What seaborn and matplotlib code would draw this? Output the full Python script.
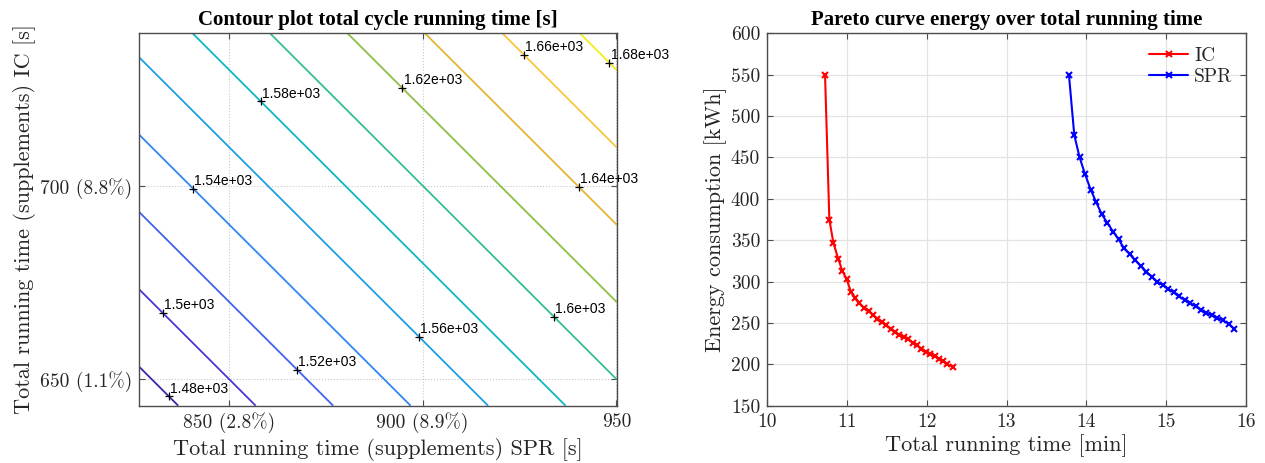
import numpy as np
import pandas as pd
import matplotlib
matplotlib.use("Agg")
import matplotlib.pyplot as plt
import seaborn as sns

# ---------------- data ----------------
# contour grid (corners of the evaluated region)
spr_grid = [826.85, 950.1]          # SPR supplement running time [s]
ic_grid = [643.1, 739.4]            # IC supplement running time [s]
total_time = [[1469.95, 1593.20],   # total cycle running time [s] (rows: IC, cols: SPR)
              [1566.25, 1689.50]]
levels = [1480, 1500, 1520, 1540, 1560, 1580, 1600, 1620, 1640, 1660, 1680]
label_spr = [834.5, 832.9, 867.6, 840.8, 899.1, 858.2, 934.0, 894.8, 940.4, 926.2, 948.2]

spr_ticks = [850, 900, 950]
spr_ticklabels = ["850 (2.8%)", "900 (8.9%)", "950"]
ic_ticks = [650, 700]
ic_ticklabels = ["650 (1.1%)", "700 (8.8%)"]

# pareto curves
ic_time = [10.727, 10.781, 10.831, 10.894, 10.944, 10.998, 11.053, 11.107, 11.157, 11.216,
           11.274, 11.328, 11.383, 11.437, 11.491, 11.550, 11.604, 11.658, 11.713, 11.771,
           11.826, 11.880, 11.935, 11.990, 12.044, 12.100, 12.150, 12.210, 12.260, 12.330]
ic_energy = [550, 375, 347, 327, 313, 303, 287, 280, 274, 268,
             264, 260, 255, 251, 247, 243, 239, 236, 233, 230,
             226, 223, 219, 215, 212, 210, 207, 204, 200, 197]
spr_time = [13.782, 13.849, 13.916, 13.983, 14.055, 14.123, 14.190, 14.262, 14.338, 14.405,
            14.473, 14.544, 14.612, 14.679, 14.751, 14.818, 14.885, 14.957, 15.024, 15.092,
            15.159, 15.230, 15.298, 15.370, 15.437, 15.504, 15.576, 15.643, 15.711, 15.782, 15.850]
spr_energy = [550, 477, 450, 430, 411, 396, 382, 371, 360, 351,
              340, 333, 326, 319, 312, 306, 300, 296, 291, 287,
              282, 278, 274, 270, 266, 262.5, 259, 256, 253, 249, 243]

level_colors = ["#3e26a8", "#4637d6", "#4063f2", "#2f86f4", "#1ba0e4", "#0fb6c4",
                "#36bd95", "#8ebf45", "#e8b331", "#fac63c", "#f2ee18"]

# ---------------- style ----------------
sns.set_theme(style="ticks")
plt.rcParams["font.family"] = ["cmr10", "DejaVu Serif"]
plt.rcParams["axes.unicode_minus"] = False
edge = "#4d4d4d"
txt = "#262626"

fig = plt.figure(figsize=(12.65, 4.63), dpi=100)
axL = fig.add_axes([139.3 / 1265, 57.3 / 463, 477.4 / 1265, 372.4 / 463])
axR = fig.add_axes([767 / 1265, 57.3 / 463, 479 / 1265, 372.4 / 463])

title_font = dict(family="Liberation Serif", weight="bold", size=15, color="black")
label_size = 16
tick_size = 14

# ---------------- left: contour ----------------
X, Y = np.meshgrid(spr_grid, ic_grid)
Z = np.array(total_time)
cs = axL.contour(X, Y, Z, levels=levels, colors=level_colors, linewidths=1.3)
label_pos = [(s, lev - s) for s, lev in zip(label_spr, levels)]
texts = axL.clabel(cs, levels, manual=label_pos, inline=False, fmt="%.3g", fontsize=10)
for t in texts:
    x, y = t.get_position()
    axL.plot([x], [y], marker="+", color="black", ms=6, mew=0.9, zorder=5, clip_on=False)
    t.set_rotation(0)
    t.set_ha("left")
    t.set_va("bottom")
    t.set_color("black")
    t.set_fontfamily("Liberation Sans")
    t.set_clip_on(False)
    t.set_position((x + 0.3, y + 0.2))

axL.set_xlim(spr_grid[0], spr_grid[1])
axL.set_ylim(ic_grid[0], ic_grid[1])
axL.set_xticks(spr_ticks)
axL.set_xticklabels(spr_ticklabels)
axL.set_yticks(ic_ticks)
axL.set_yticklabels(ic_ticklabels)
axL.grid(True, linestyle=":", color="#c8c8c8", linewidth=0.8)
axL.set_title("Contour plot total cycle running time [s]", pad=6, fontdict=title_font)
axL.set_xlabel("Total running time (supplements) SPR [s]", fontsize=label_size, color=txt, labelpad=3)
axL.set_ylabel("Total running time (supplements) IC [s]", fontsize=label_size, color=txt, labelpad=3)

# ---------------- right: pareto ----------------
df = pd.concat([
    pd.DataFrame({"time": ic_time, "energy": ic_energy, "series": "IC"}),
    pd.DataFrame({"time": spr_time, "energy": spr_energy, "series": "SPR"}),
])
palette = {"IC": "#ff0000", "SPR": "#0000ff"}
sns.lineplot(data=df, x="time", y="energy", hue="series", palette=palette,
             sort=False, estimator=None, marker="x", markersize=5, markeredgewidth=1.5,
             linewidth=1.5, legend=False, ax=axR)
for ln in axR.get_lines():
    ln.set_markeredgecolor(ln.get_color())
    ln.set_markerfacecolor(ln.get_color())
axR.set_xlim(10, 16)
axR.set_ylim(150, 600)
axR.set_xticks(range(10, 17))
axR.set_yticks(range(150, 601, 50))
axR.grid(True, linestyle="-", color="#e3e3e3", linewidth=0.9)
axR.set_axisbelow(True)
axR.legend(axR.get_lines()[:2], ["IC", "SPR"], loc="upper right", frameon=False,
           fontsize=14, handlelength=2.0, borderaxespad=0.3, labelspacing=0.15, handletextpad=0.3)
axR.set_title("Pareto curve energy over total running time", pad=6, fontdict=title_font)
axR.set_xlabel("Total running time [min]", fontsize=label_size, color=txt, labelpad=3)
axR.set_ylabel("Energy consumption [kWh]", fontsize=label_size, color=txt, labelpad=3)

for ax in (axL, axR):
    for sp in ax.spines.values():
        sp.set_visible(True)
        sp.set_color(edge)
        sp.set_linewidth(1.0)
    ax.tick_params(direction="in", top=True, right=True, length=4, width=0.8,
                   color=edge, labelsize=tick_size, labelcolor=txt, pad=5)

fig.savefig("out.png", dpi=100)
